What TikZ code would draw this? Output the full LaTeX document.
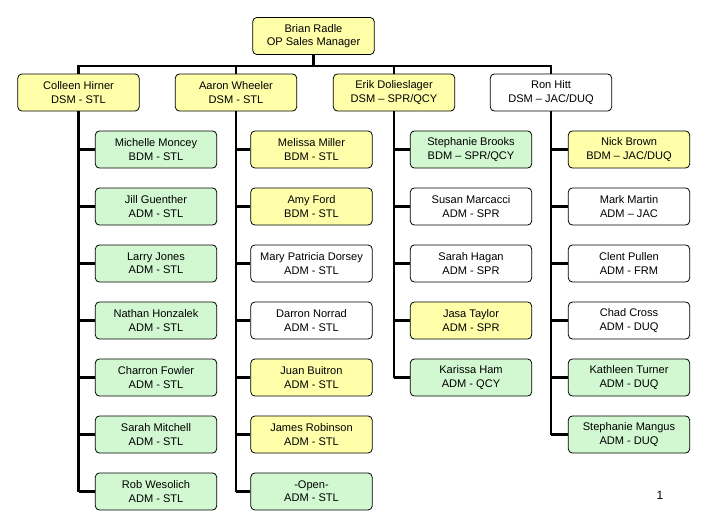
\documentclass[tikz,border=0pt]{standalone}
\usepackage{fontspec}
\setmainfont{Liberation Sans}
\definecolor{yel}{HTML}{FFFFAA}
\definecolor{grn}{HTML}{D2F8D2}
\begin{document}
\begin{tikzpicture}[x=0.75pt,y=-0.75pt,
  box/.style={draw,line width=0.6pt,rounded corners=3pt,minimum width=91pt,minimum height=27.75pt,inner sep=1pt,align=center,font=\fontsize{8.3}{10}\selectfont},
  Y/.style={box,fill=yel},G/.style={box,fill=grn},W/.style={box,fill=white},
  ln/.style={line width=1.6pt}]
\useasboundingbox (0,0) rectangle (706,529);
\node[Y] (br) at (313.5,36) {Brian Radle\\OP Sales Manager};
\node[Y] (m1) at (78.5,92.5) {Colleen Hirner\\DSM - STL};
\node[Y] (m2) at (236,92.5) {Aaron Wheeler\\DSM - STL};
\node[Y] (m3) at (394,92.5) {Erik Dolieslager\\DSM -- SPR/QCY};
\node[W] (m4) at (551,92.5) {Ron Hitt\\DSM -- JAC/DUQ};
\coordinate (bl) at (78.5,66);
\coordinate (bm) at (313.5,66);
\coordinate (brr) at (551,66);
\draw[ln] (br.south) -- (bm);
\draw[ln] (m1.north) -- (bl) -- (brr) -- (m4.north);
\draw[ln] (m2.north) -- (m2.north |- bl);
\draw[ln] (m3.north) -- (m3.north |- bl);
\foreach \n/\s/\t/\r in {a/G/{Michelle Moncey\\BDM - STL}/0,b/G/{Jill Guenther\\ADM - STL}/1,c/G/{Larry Jones\\ADM - STL}/2,d/G/{Nathan Honzalek\\ADM - STL}/3,e/G/{Charron Fowler\\ADM - STL}/4,f/G/{Sarah Mitchell\\ADM - STL}/5,g/G/{Rob Wesolich\\ADM - STL}/6}
  {\node[\s] (c1\n) at (156,149.5+57*\r) {\t}; \draw[ln] (c1\n.west) -- (m1.south |- c1\n.west);}
\draw[ln] (m1.south) -- (m1.south |- c1g.west);
\foreach \n/\s/\t/\r in {a/Y/{Melissa Miller\\BDM - STL}/0,b/Y/{Amy Ford\\BDM - STL}/1,c/W/{Mary Patricia Dorsey\\ADM - STL}/2,d/W/{Darron Norrad\\ADM - STL}/3,e/Y/{Juan Buitron\\ADM - STL}/4,f/Y/{James Robinson\\ADM - STL}/5,g/G/{-Open-\\ADM - STL}/6}
  {\node[\s] (c2\n) at (311.5,149.5+57*\r) {\t}; \draw[ln] (c2\n.west) -- (m2.south |- c2\n.west);}
\draw[ln] (m2.south) -- (m2.south |- c2g.west);
\foreach \n/\s/\t/\r in {a/G/{Stephanie Brooks\\BDM -- SPR/QCY}/0,b/W/{Susan Marcacci\\ADM - SPR}/1,c/W/{Sarah Hagan\\ADM - SPR}/2,d/Y/{Jasa Taylor\\ADM - SPR}/3,e/G/{Karissa Ham\\ADM - QCY}/4}
  {\node[\s] (c3\n) at (471,149.5+57*\r) {\t}; \draw[ln] (c3\n.west) -- (m3.south |- c3\n.west);}
\draw[ln] (m3.south) -- (m3.south |- c3e.west);
\foreach \n/\s/\t/\r in {a/Y/{Nick Brown\\BDM -- JAC/DUQ}/0,b/W/{Mark Martin\\ADM -- JAC}/1,c/W/{Clent Pullen\\ADM - FRM}/2,d/W/{Chad Cross\\ADM - DUQ}/3,e/G/{Kathleen Turner\\ADM - DUQ}/4,f/G/{Stephanie Mangus\\ADM - DUQ}/5}
  {\node[\s] (c4\n) at (629,149.5+57*\r) {\t}; \draw[ln] (c4\n.west) -- (m4.south |- c4\n.west);}
\draw[ln] (m4.south) -- (m4.south |- c4f.west);
\node[font=\fontsize{9}{11}\selectfont] (pg) at (660,495) {1};
\end{tikzpicture}
\end{document}
